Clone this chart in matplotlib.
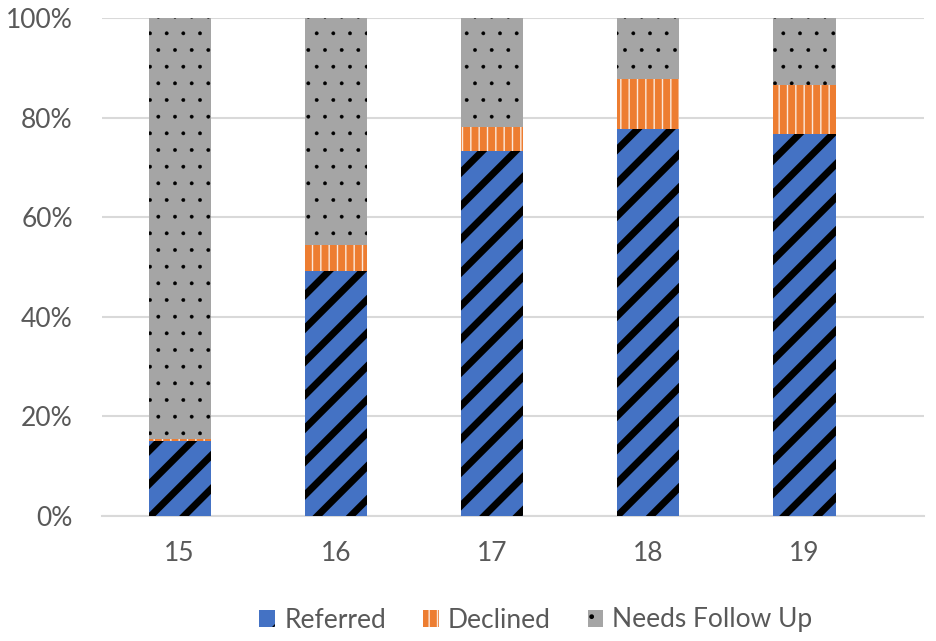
import matplotlib.pyplot as plt
import matplotlib as mpl
from matplotlib.patches import Rectangle
import numpy as np

weeks = ["15", "16", "17", "18", "19"]
referred = [15.0, 49.2, 73.3, 77.7, 76.7]
declined = [0.4, 5.2, 4.8, 10.1, 9.8]
follow_up = [100 - r - d for r, d in zip(referred, declined)]

series_names = ["Referred", "Declined", "Needs Follow Up"]
face_colors = ["#4472C4", "#ED7D31", "#A5A5A5"]
hatch_colors = ["black", "#FBE8DA", "black"]
hatches = ["/", "||", "."]
hatch_widths = [5.0, 1.0, 0.3]

text_color = "#595959"
grid_color = "#D9D9D9"

plt.rcParams["font.family"] = ["Lato", "DejaVu Sans"]

fig = plt.figure(figsize=(9.37, 6.41), dpi=100)
ax = fig.add_axes([102 / 937, 125 / 641, 822 / 937, 498 / 641])

x = np.arange(len(weeks))
bottoms = np.zeros(len(weeks))
for vals, fc, hc, hatch, hw in zip([referred, declined, follow_up],
                                   face_colors, hatch_colors, hatches, hatch_widths):
    with mpl.rc_context({"hatch.linewidth": hw}):
        bars = ax.bar(x, vals, width=0.397, bottom=bottoms, color=fc,
                      edgecolor=hc, linewidth=0, hatch=hatch, zorder=3)
    for b in bars:
        if hasattr(b, "set_hatch_linewidth"):
            b.set_hatch_linewidth(hw)
    bottoms += np.array(vals)

ax.set_xlim(-0.497, 4.765)
ax.set_ylim(0, 100)
ax.set_yticks(np.arange(0, 101, 20))
ax.set_yticklabels([f"{v}%" for v in range(0, 101, 20)])
ax.set_xticks(x)
ax.set_xticklabels(weeks)
ax.yaxis.grid(True, color=grid_color, linewidth=1.5, zorder=0)
for s in ["top", "right", "left"]:
    ax.spines[s].set_visible(False)
ax.spines["bottom"].set_color(grid_color)
ax.spines["bottom"].set_linewidth(1.5)
ax.tick_params(axis="both", length=0, labelsize=19, colors=text_color)
ax.tick_params(axis="y", pad=21)
ax.tick_params(axis="x", pad=18)

# legend boxes drawn with the same hatch widths as the bars
handles = []
for fc, hc, hatch, hw in zip(face_colors, hatch_colors, hatches, hatch_widths):
    with mpl.rc_context({"hatch.linewidth": hw}):
        h = Rectangle((0, 0), 1, 1, facecolor=fc, edgecolor=hc, linewidth=0, hatch=hatch)
    if hasattr(h, "set_hatch_linewidth"):
        h.set_hatch_linewidth(hw)
    handles.append(h)
fig.legend(handles, series_names, loc="center", bbox_to_anchor=(536 / 937, 1 - 620 / 641),
           ncol=3, frameon=False, fontsize=19, labelcolor=text_color,
           handlelength=0.6, handleheight=0.6, handletextpad=0.34, columnspacing=1.4)

fig.savefig("out.png", dpi=100)
